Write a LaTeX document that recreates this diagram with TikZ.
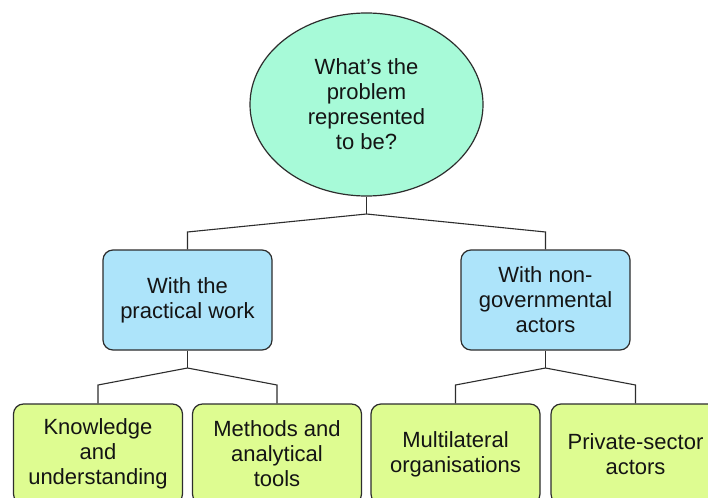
\documentclass[tikz,border=0pt]{standalone}
\usepackage{fontspec}
\setmainfont{Liberation Sans}
\usetikzlibrary{shapes.geometric}
\definecolor{mint}{RGB}{167,250,216}
\definecolor{skyblue}{RGB}{173,228,250}
\definecolor{lime}{RGB}{222,252,145}
\definecolor{edge}{RGB}{45,45,45}
\begin{document}
\begin{tikzpicture}[x=1pt,y=-1pt,
  lbl/.style={font=\fontsize{22}{25}\selectfont, align=center, text=black!92},
  question/.style={lbl, ellipse, draw=edge, line width=1.2pt, fill=mint,
    minimum width=233pt, minimum height=183pt, inner sep=0pt},
  theme/.style={lbl, rounded corners=10pt, draw=edge, line width=1.2pt, fill=skyblue,
    minimum width=169pt, minimum height=100pt, inner sep=0pt},
  leaf/.style={lbl, rounded corners=10pt, draw=edge, line width=1.2pt, fill=lime,
    minimum width=169pt, minimum height=100pt, inner sep=0pt},
  link/.style={draw=edge, line width=1.1pt}]
\useasboundingbox (0,0) rectangle (708,497);
\clip (0,0) rectangle (708,497);
\fill[white] (0,0) rectangle (708,497);

% root question
\node[question] (root) at (366.5,104.5) {What’s the\\problem\\represented\\to be?};

% two themes
\node[theme] (work) at (187.5,300) {With the\\practical work};
\node[theme] (ngo) at (545.5,300) {With non-\\governmental\\actors};

% leaves
\node[leaf] (know) at (98,454) {Knowledge\\and\\understanding};
\node[leaf] (meth) at (277,454) {Methods and\\analytical\\tools};
\node[leaf] (multi) at (455.5,454) {Multilateral\\organisations};
\node[leaf] (priv) at (635.5,454) {Private-sector\\actors};

% branching points
\coordinate (j0) at (366.5,214);
\coordinate (jl) at (187.5,232);
\coordinate (jr) at (545.5,232);
\coordinate (j1) at (187.5,368);
\coordinate (k1) at (98,385);
\coordinate (m1) at (277,385);
\coordinate (j2) at (545.5,368);
\coordinate (k2) at (455.5,385);
\coordinate (m2) at (635.5,385);

\draw[link] (root.south) -- (j0);
\draw[link] (j0) -- (jl) -- (work.north);
\draw[link] (j0) -- (jr) -- (ngo.north);
\draw[link] (work.south) -- (j1);
\draw[link] (j1) -- (k1) -- (know.north);
\draw[link] (j1) -- (m1) -- (meth.north);
\draw[link] (ngo.south) -- (j2);
\draw[link] (j2) -- (k2) -- (multi.north);
\draw[link] (j2) -- (m2) -- (priv.north);
\end{tikzpicture}
\end{document}
